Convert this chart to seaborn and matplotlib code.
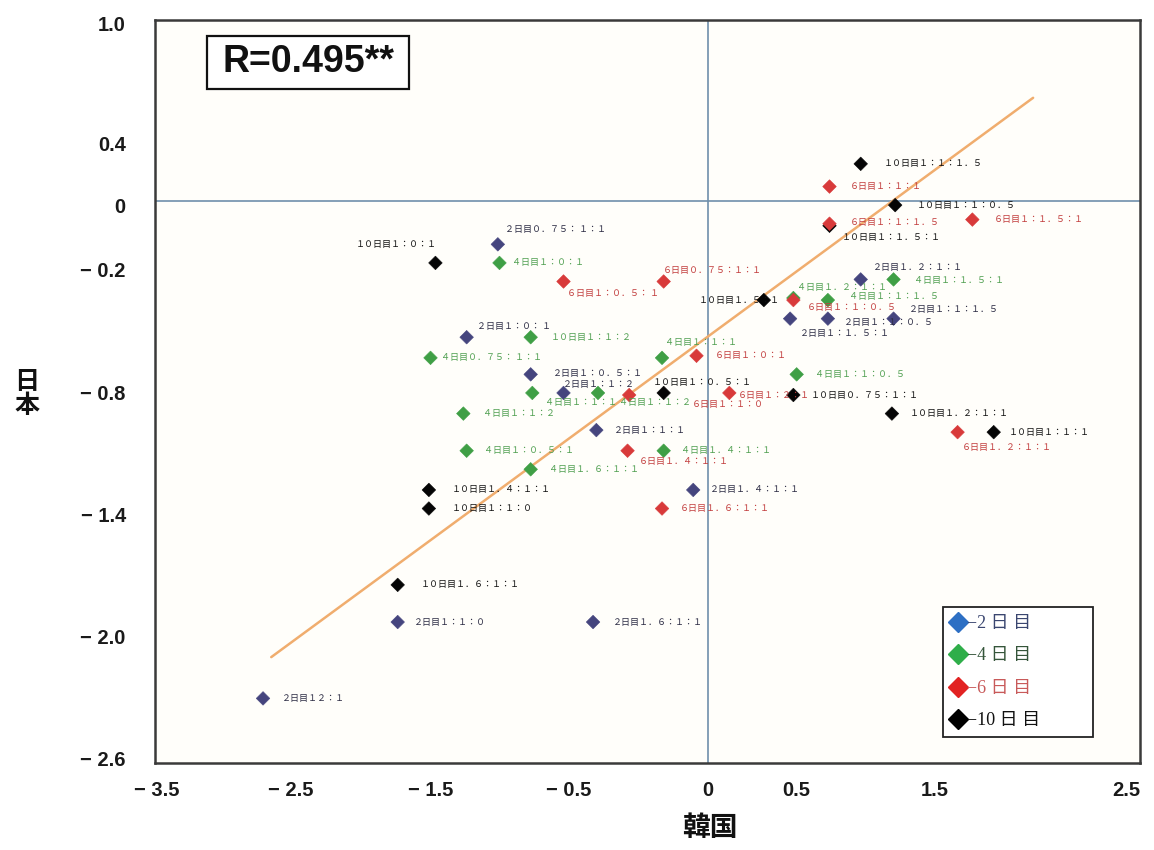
import matplotlib
matplotlib.use("Agg")
import matplotlib.pyplot as plt
import seaborn as sns
import pandas as pd
from matplotlib.lines import Line2D
from matplotlib.patches import Rectangle

# ---------------- data ----------------
groups = ["2日目", "4日目", "6日目", "10日目"]

x_day2 = [-1.28, -1.47, -1.08, -0.88, -0.68, -0.09, -1.89, -0.70, -2.71, 0.93, 0.50, 0.73, 1.13]
y_day2 = [-0.21, -0.66, -0.84, -0.93, -1.11, -1.40, -2.04, -2.04, -2.41, -0.38, -0.57, -0.57, -0.57]
lab_day2 = ["2日目0.75: 1:1", "2日目1:0: 1", "2日目1:0.5:1", "2日目1:1:2", "2日目1:1:1",
            "2日目1.4:1:1", "2日目1:1:0", "2日目1.6:1:1", "2日目12:1", "2日目1.2:1:1",
            "2日目1:1.5:1", "2日目1:1:0.5", "2日目1:1:1.5"]

x_day4 = [-1.27, -1.08, -1.69, -0.28, -1.07, -0.67, -1.49, -1.47, -0.27, -1.08, 0.54, 1.13, 0.73, 0.52]
y_day4 = [-0.30, -0.66, -0.76, -0.76, -0.93, -0.93, -1.03, -1.21, -1.21, -1.30, -0.84, -0.38, -0.48, -0.47]
lab_day4 = ["4日目1:0:1", "10日目1:1:2", "4日目0.75: 1:1", "4日目1:1:1", "4日目1:1:1",
            "4日目1:1:2", "4日目1:1:2", "4日目1:0.5:1", "4日目1.4:1:1", "4日目1.6:1:1",
            "4日目1:1:0.5", "4日目1:1.5:1", "4日目1:1:1.5", "4日目1.2:1:1"]

x_day6 = [-0.88, -0.27, -0.07, -0.48, 0.13, -0.49, -0.28, 0.74, 0.74, 1.61, 0.52, 1.52]
y_day6 = [-0.39, -0.39, -0.75, -0.94, -0.93, -1.21, -1.49, 0.07, -0.11, -0.09, -0.48, -1.12]
lab_day6 = ["6日目1:0.5: 1", "6日目0.75:1:1", "6日目1:0:1", "6日目1:1:0", "6日目1:2:1",
            "6日目1.4:1:1", "6日目1.6:1:1", "6日目1:1:1", "6日目1:1:1.5", "6日目1:1.5:1",
            "6日目1:1:0.5", "6日目1.2:1:1"]

x_day10 = [-1.66, -0.27, 0.34, 0.52, 1.12, 1.74, -1.70, -1.70, -1.89, 0.93, 1.14, 0.74]
y_day10 = [-0.30, -0.93, -0.48, -0.94, -1.03, -1.12, -1.40, -1.49, -1.86, 0.18, -0.02, -0.12]
lab_day10 = ["10日目1:0:1", "10日目1:0.5:1", "10日目1.5:1", "10日目0.75:1:1", "10日目1.2:1:1",
             "10日目1:1:1", "10日目1.4:1:1", "10日目1:1:0", "10日目1.6:1:1", "10日目1:1:1.5",
             "10日目1:1:0.5", "10日目1:1.5:1"]

trend_x = [-2.66, 1.98]
trend_y = [-2.21, 0.50]

r_text = "R=0.495**"

xtick_labels = ["− 3.5", "− 2.5", "− 1.5", "− 0.5", "0", "0.5", "1.5", "2.5"]
ytick_labels = ["1.0", "0.4", "0", "− 0.2", "− 0.8", "− 1.4", "− 2.0", "− 2.6"]
legend_labels = ["−2 日 目", "−4 日 目", "−6 日 目", "−10 日 目"]

# ---------------- layout / style (not data) ----------------
xtick_pos = [-3.36, -2.54, -1.69, -0.85, 0.0, 0.54, 1.38, 2.55]
ytick_pos = [0.86, 0.28, -0.02, -0.33, -0.93, -1.52, -2.11, -2.70]

off_day2 = [(7, 15), (10, 11), (22, 1), (-1, 8), (18, 0), (17, 0), (16, 0), (20, 0), (19, 0),
            (12, 12), (10, -15), (16, -4), (15, 9)]
off_day4 = [(13, 0), (20, 0), (10, 0), (3, 15), (13, -10), (21, -10), (20, 0), (17, 0), (17, 0),
            (18, 0), (18, 0), (20, -1), (21, 4), (4, 11)]
off_day6 = [(3, -12), (-1, 11), (18, 0), (63, -9), (8, -3), (11, -11), (18, 0), (20, 0), (20, 1),
            (21, 0), (13, -7), (4, -15)]
off_day10 = [(-80, 18), (-11, 10), (-65, 0), (17, 0), (18, 0), (15, 0), (23, 0), (23, 0), (23, 0),
             (23, 0), (22, 0), (12, -12)]

marker_colors = {"2日目": "#45457e", "4日目": "#3f9f45", "6日目": "#d83a3a", "10日目": "#050505"}
label_colors = {"2日目": "#2c2c44", "4日目": "#4f9f50", "6日目": "#c23d3d", "10日目": "#111111"}
legend_marker_colors = ["#2d6fc4", "#2fae4a", "#e22222", "#000000"]
legend_text_colors = ["#3a4670", "#35553a", "#c85a5a", "#111111"]

sns.set_theme(style="white")
plt.rcParams["font.family"] = ["Liberation Sans", "Noto Sans CJK JP", "DejaVu Sans"]
plt.rcParams["axes.unicode_minus"] = True

FW = str.maketrans("0123456789:.", "０１２３４５６７８９：．")

xs = {"2日目": x_day2, "4日目": x_day4, "6日目": x_day6, "10日目": x_day10}
ys = {"2日目": y_day2, "4日目": y_day4, "6日目": y_day6, "10日目": y_day10}
labs = {"2日目": lab_day2, "4日目": lab_day4, "6日目": lab_day6, "10日目": lab_day10}
offs = {"2日目": off_day2, "4日目": off_day4, "6日目": off_day6, "10日目": off_day10}

draw_order = ["10日目", "2日目", "4日目", "6日目"]
frames = []
for g in draw_order:
    frames.append(pd.DataFrame({"韓国": xs[g], "日本": ys[g], "group": g, "label": labs[g],
                                "dx": [o[0] for o in offs[g]], "dy": [o[1] for o in offs[g]]}))
df = pd.concat(frames, ignore_index=True)

W, H = 1154, 850
fig = plt.figure(figsize=(W / 100, H / 100), dpi=100, facecolor="white")
L, R, T, B = 155, 1140, 20, 763
ax = fig.add_axes([L / W, 1 - B / H, (R - L) / W, (B - T) / H])
ax.set_facecolor("#fffefa")

ax.set_xlim(-3.368, 2.631)
ax.set_ylim(-2.723, 0.877)

ax.axhline(0, color="#6f8fab", lw=1.2, zorder=1)
ax.axvline(0, color="#6f8fab", lw=1.2, zorder=1)

ax.plot(trend_x, trend_y, color="#f0ad6e", lw=1.8, zorder=2)

sns.scatterplot(data=df, x="韓国", y="日本", hue="group", palette=marker_colors,
                marker="D", s=48, edgecolor="face", linewidth=0.4, legend=False, ax=ax, zorder=3)

for _, row in df.iterrows():
    ax.annotate(row["label"].translate(FW), (row["韓国"], row["日本"]),
                xytext=(row["dx"], row["dy"]), textcoords="offset pixels",
                ha="left", va="center", fontsize=6.5, color=label_colors[row["group"]],
                family=["Noto Sans CJK JP", "DejaVu Sans"], zorder=4)

# ticks
ax.set_xticks(xtick_pos)
ax.set_xticklabels(xtick_labels)
ax.set_yticks(ytick_pos)
ax.set_yticklabels(ytick_labels)
ax.tick_params(axis="both", length=0, labelsize=14.5, labelcolor="#1a1a1a")
ax.tick_params(axis="x", pad=13)
ax.tick_params(axis="y", pad=21)
for t in ax.get_xticklabels() + ax.get_yticklabels():
    t.set_fontweight("bold")
ax.set_xlabel("")
ax.set_ylabel("")

for s in ax.spines.values():
    s.set_color("#3a3a3a")
    s.set_linewidth(1.8)

# R box
bx0, by0, bw, bh = (207 - L) / (R - L), (B - 89) / (B - T), 202 / (R - L), 53 / (B - T)
ax.add_patch(Rectangle((bx0, by0), bw, bh, transform=ax.transAxes, facecolor="white",
                       edgecolor="#111111", lw=1.6, zorder=5))
ax.text(bx0 + bw / 2, by0 + bh / 2, r_text, transform=ax.transAxes, ha="center", va="center",
        fontsize=27, fontweight="bold", color="#111111", zorder=6)

# legend
handles = [Line2D([0], [0], marker="D", linestyle="none", markersize=10,
                  markerfacecolor=c, markeredgecolor=c) for c in legend_marker_colors]
lx0, ly0 = (943 - L) / (R - L), (B - 731) / (B - T)
lw_, lh_ = 150 / (R - L), 124 / (B - T)
leg = ax.legend(handles, legend_labels, loc="upper left", bbox_to_anchor=(lx0, ly0, lw_, lh_),
                mode="expand", borderaxespad=0, frameon=True, fancybox=False,
                handlelength=0.8, handletextpad=0.1, labelspacing=0.85, borderpad=0.45,
                prop={"family": ["Liberation Serif", "Noto Sans CJK JP"], "size": 13})
leg.get_frame().set_edgecolor("#222222")
leg.get_frame().set_linewidth(1.3)
leg.get_frame().set_facecolor("white")
leg.get_frame().set_alpha(1)
for t, c in zip(leg.get_texts(), legend_text_colors):
    t.set_color(c)

# axis titles
fig.text(710 / W, 1 - 828 / H, "韓国", ha="center", va="center", fontsize=20, fontweight="bold",
         family=["Noto Sans CJK JP"], color="#111111")
fig.text(27 / W, 1 - 394 / H, "日\n本", ha="center", va="center", fontsize=18, fontweight="bold",
         family=["Noto Sans CJK JP"], color="#111111", linespacing=1.05)

fig.savefig("out.png", dpi=100, facecolor="white")
